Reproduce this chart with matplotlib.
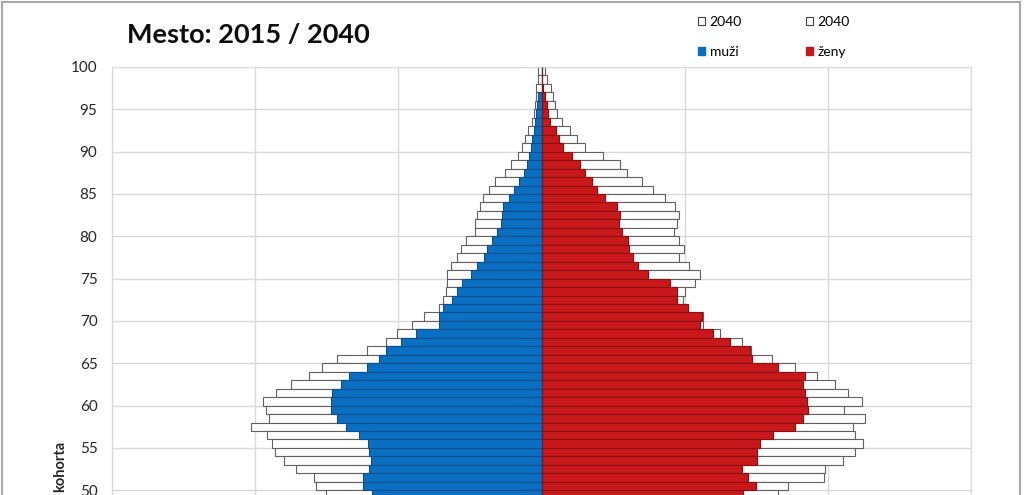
import numpy as np
import matplotlib.pyplot as plt
from matplotlib.patches import Patch, Rectangle

plt.rcParams['font.family'] = ['Lato', 'DejaVu Sans']

# vek 100 -> 50 (spodna cast grafu je orezana)
ages = np.arange(100, 49, -1)

muzi_2015 = [0, 0, 0, 11, 14, 18, 21, 25, 32, 35, 42, 49, 60, 77, 95, 112, 133, 137, 140, 154,
             172, 189, 200, 224, 245, 277, 294, 312, 343, 357, 357, 438, 490, 543, 567, 609, 672,
             700, 732, 735, 735, 714, 683, 637, 606, 602, 595, 602, 623, 623, 592]
muzi_2040 = [11, 11, 18, 18, 21, 25, 32, 46, 56, 67, 81, 105, 126, 161, 182, 203, 214, 224, 231, 231,
             263, 280, 294, 315, 329, 329, 333, 343, 357, 410, 452, 504, 543, 609, 714, 767, 812,
             875, 928, 973, 963, 952, 1015, 959, 942, 931, 900, 858, 795, 788, 753]
zeny_2015 = [0, 0, 4, 11, 18, 21, 28, 49, 60, 74, 105, 133, 151, 175, 193, 221, 263, 273, 270, 280,
             301, 305, 319, 336, 371, 448, 473, 473, 511, 560, 553, 599, 658, 728, 735, 826, 921,
             914, 921, 928, 931, 914, 886, 809, 763, 753, 753, 700, 721, 749, 704]
zeny_2040 = [11, 18, 32, 39, 46, 53, 70, 98, 123, 151, 214, 273, 298, 350, 389, 431, 466, 480, 473, 462,
             480, 497, 480, 515, 553, 536, 501, 494, 511, 564, 564, 623, 700, 732, 805, 886, 963,
             1026, 1071, 1120, 1057, 1131, 1089, 1096, 1124, 1096, 1054, 991, 987, 861, 826]

blue = '#0b6fc1'
red = '#c8181c'
grid_col = '#d9d9d9'

fig = plt.figure(figsize=(10.24, 4.95), dpi=100)
# os siaha pod spodny okraj obrazka (vek 0 az 100)
ax = fig.add_axes([112 / 1024, 1 - 922 / 495, 859 / 1024, 855 / 495])

y = ages - 0.5
ax.barh(y, -np.array(muzi_2040), height=1.0, color='white', edgecolor='#606060', linewidth=0.8, zorder=2)
ax.barh(y, zeny_2040, height=1.0, color='white', edgecolor='#606060', linewidth=0.8, zorder=2)
ax.barh(y, -np.array(muzi_2015), height=1.0, color=blue, edgecolor='#0a4f8c', linewidth=0.8, zorder=3)
ax.barh(y, zeny_2015, height=1.0, color=red, edgecolor='#8a1010', linewidth=0.8, zorder=3)

ax.set_xlim(-1500, 1500)
ax.set_ylim(-1, 100)
ax.set_xticks(np.arange(-1500, 1501, 500))
ax.set_yticks(np.arange(50, 101, 5))
ax.tick_params(axis='x', labelbottom=False, length=0)
ax.tick_params(axis='y', length=0, pad=10.5, labelsize=11, labelcolor='#262626')
ax.grid(True, color=grid_col, linewidth=1.0, zorder=0)
ax.set_axisbelow(True)
for s in ax.spines.values():
    s.set_color(grid_col)

fig.text(60 / 1024, 1 - 466 / 495, 'kohorta', rotation=90, fontsize=10.5, fontweight='bold',
         ha='center', va='center', color='#262626')
fig.text(127 / 1024, 1 - 35 / 495, 'Mesto: 2015 / 2040', fontsize=19.5, fontweight='bold',
         ha='left', va='center', color='#0d0d0d')

handles = [Patch(facecolor='white', edgecolor='#404040', linewidth=0.8, label='2040'),
           Patch(facecolor=blue, edgecolor=blue, label='muži'),
           Patch(facecolor='white', edgecolor='#404040', linewidth=0.8, label='2040'),
           Patch(facecolor=red, edgecolor=red, label='ženy')]
fig.legend(handles=handles, ncol=2, loc='upper left', bbox_to_anchor=(688 / 1024, 1 - 6 / 495),
           frameon=False, fontsize=10, handlelength=0.55, handleheight=0.55, handletextpad=0.3,
           columnspacing=4.6, labelspacing=1.3, borderpad=0.2)

fig.patches.append(Rectangle((2 / 1024, -0.1), 1018 / 1024, 1.1 - 2 / 495, transform=fig.transFigure,
                             fill=False, edgecolor='#a6a6a6', linewidth=1.5))

fig.savefig('out.png', dpi=100)
